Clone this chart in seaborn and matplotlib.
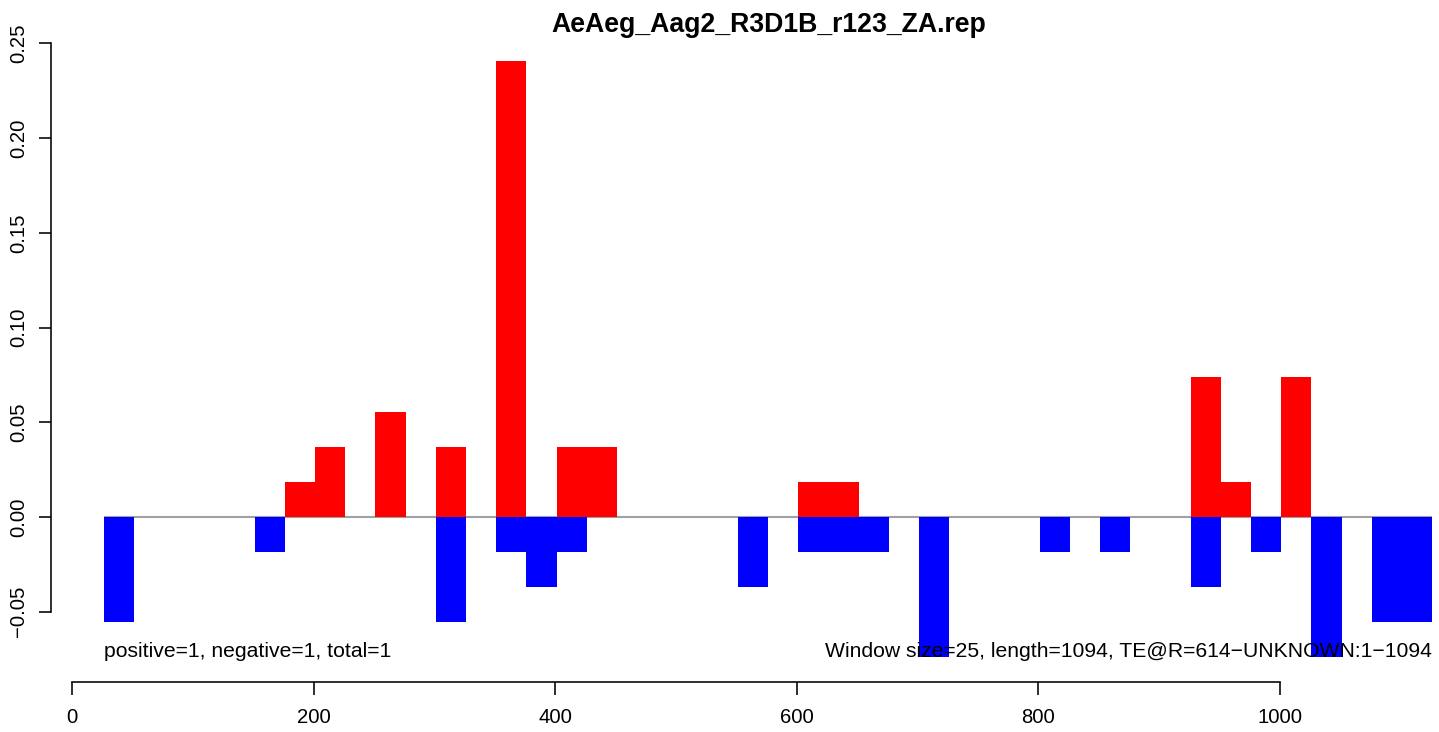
import numpy as np
import pandas as pd
import matplotlib
matplotlib.use("Agg")
import matplotlib.pyplot as plt
import seaborn as sns

# ---- data ----
title = "AeAeg_Aag2_R3D1B_r123_ZA.rep"
window = 25
starts = list(range(1, 1126, 25))  # window start positions (1-based)
pos_map = {176: 0.0185, 201: 0.0370, 251: 0.0556, 301: 0.0370, 351: 0.2407,
           401: 0.0370, 426: 0.0370, 601: 0.0185, 626: 0.0185, 926: 0.0741,
           951: 0.0185, 1001: 0.0741}
neg_map = {26: -0.0556, 151: -0.0185, 301: -0.0556, 351: -0.0185, 376: -0.0370,
           401: -0.0185, 551: -0.0370, 601: -0.0185, 626: -0.0185, 651: -0.0185,
           701: -0.0741, 801: -0.0185, 851: -0.0185, 926: -0.0370, 976: -0.0185,
           1026: -0.0741, 1076: -0.0556, 1101: -0.0556}
pos_vals = [pos_map.get(s, 0.0) for s in starts]
neg_vals = [neg_map.get(s, 0.0) for s in starts]
x_ticks = [0, 200, 400, 600, 800, 1000]
y_ticks = [-0.05, 0.00, 0.05, 0.10, 0.15, 0.20, 0.25]
left_note = "positive=1, negative=1, total=1"
right_note = "Window size=25, length=1094, TE@R=614\u2212UNKNOWN:1\u22121094"

# ---- plot ----
sns.set_theme(style="white")
plt.rcParams["font.family"] = ["Liberation Sans", "DejaVu Sans"]

W, H = 1439, 732
X0, XS = 72.3, 1.2077      # pixel of x=0, pixels per unit
Y0, YS = 517.0, 1894.7     # pixel of y=0, pixels per unit
AX_L, AX_B = 51, 682

fig = plt.figure(figsize=(W / 100, H / 100), dpi=100)
ax = fig.add_axes([AX_L / W, (H - AX_B) / H, (W - AX_L) / W, AX_B / H])

df = pd.DataFrame({"start": [s + window / 2 for s in starts],
                   "pos": pos_vals, "neg": neg_vals})
lo, hi = starts[0], starts[-1] + window
first = min(list(pos_map) + list(neg_map))

ax.hlines(0, first, hi, color="#A0A0A0", lw=1.5, zorder=1)
sns.histplot(data=df, x="start", weights="pos", binwidth=window,
             binrange=(lo, hi), color="#FF0000", alpha=1, linewidth=0,
             ax=ax, zorder=2)
sns.histplot(data=df, x="start", weights="neg", binwidth=window,
             binrange=(lo, hi), color="#0000FF", alpha=1, linewidth=0,
             ax=ax, zorder=2)

ax.set_xlim((AX_L - X0) / XS, (W - X0) / XS)
ax.set_ylim(-(AX_B - Y0) / YS, Y0 / YS)
ax.set_xlabel("")
ax.set_ylabel("")

ax.set_xticks(x_ticks)
ax.set_xticklabels([str(t) for t in x_ticks])
ax.set_yticks(y_ticks)
ax.set_yticklabels([f"{t:.2f}".replace("-", "\u2212") for t in y_ticks],
                   rotation=90, va="center")

for s in ["top", "right"]:
    ax.spines[s].set_visible(False)
for s in ["left", "bottom"]:
    ax.spines[s].set_color("black")
    ax.spines[s].set_linewidth(1.15)
ax.spines["left"].set_bounds(y_ticks[0], y_ticks[-1])
ax.spines["bottom"].set_bounds(x_ticks[0], x_ticks[-1])
ax.tick_params(axis="both", direction="out", length=9, width=1.15, color="black",
               labelsize=14.6, labelcolor="black", left=True, bottom=True)
ax.tick_params(axis="x", pad=10)
ax.tick_params(axis="y", pad=7.5)
ax.grid(False)

note_y = -(657 - Y0) / YS
ax.text(first, note_y, left_note, ha="left", va="baseline", fontsize=15.2,
        color="black")
ax.text(hi, note_y, right_note, ha="right", va="baseline", fontsize=15.2,
        color="black")

fig.text(769 / W, 1 - 32 / H, title, ha="center", va="baseline", fontsize=19.2,
         fontweight="bold", color="black")

fig.savefig("out.png", dpi=100)
